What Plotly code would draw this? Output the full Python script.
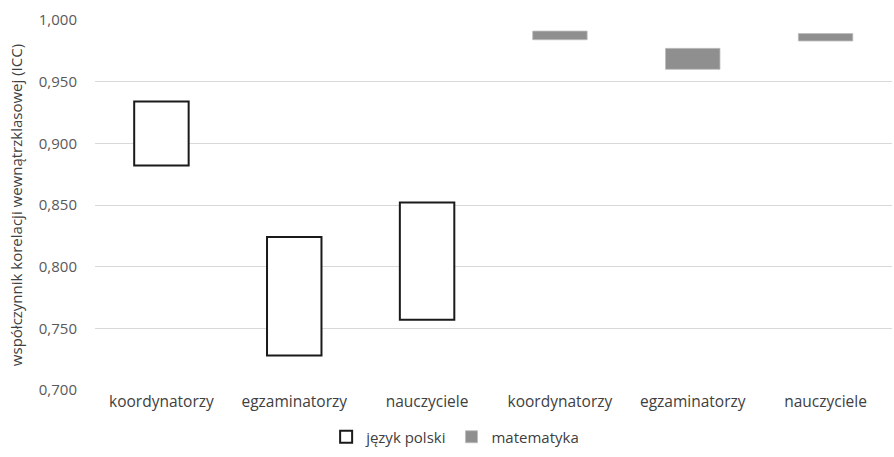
import plotly.graph_objects as go

categories = ["koordynatorzy", "egzaminatorzy", "nauczyciele",
              "koordynatorzy", "egzaminatorzy", "nauczyciele"]
pl_low = [0.882, 0.728, 0.757]
pl_high = [0.934, 0.824, 0.852]
mat_low = [0.984, 0.960, 0.983]
mat_high = [0.991, 0.977, 0.989]
y_ticks = [0.70, 0.75, 0.80, 0.85, 0.90, 0.95, 1.00]

pos = list(range(len(categories)))

fig = go.Figure()
fig.add_trace(go.Bar(
    x=pos[:3], base=pl_low, y=[h - l for h, l in zip(pl_high, pl_low)],
    name="język polski", width=0.41,
    marker=dict(color="white", line=dict(color="#1a1a1a", width=2)),
))
fig.add_trace(go.Bar(
    x=pos[3:], base=mat_low, y=[h - l for h, l in zip(mat_high, mat_low)],
    name="matematyka", width=0.41,
    marker=dict(color="#8f8f8f", line=dict(color="#bdbdbd", width=0.8)),
))

fig.update_layout(
    width=894, height=457,
    barmode="overlay",
    separators=", ",
    paper_bgcolor="white", plot_bgcolor="white",
    margin=dict(l=95, r=2, t=20, b=67, autoexpand=False),
    font=dict(family="Open Sans", size=15, color="#404040"),
    showlegend=True,
    legend=dict(orientation="h", x=0.29, xanchor="left", y=-0.127, yanchor="middle",
                font=dict(size=15, color="#404040"), itemwidth=30,
                traceorder="normal"),
    xaxis=dict(tickvals=pos, ticktext=categories, range=[-0.5, 5.5],
               showgrid=False, showline=False, zeroline=False, automargin=False,
               tickfont=dict(size=15.5, color="#404040")),
    yaxis=dict(range=[0.70, 1.00], tickvals=y_ticks, tickformat=".3f",
               showgrid=True, gridcolor="#d9d9d9", gridwidth=1.2,
               zeroline=False, showline=False, automargin=False,
               ticklabelstandoff=17,
               tickfont=dict(size=15, color="#595959"),
               title=dict(text="współczynnik korelacji wewnątrzklasowej (ICC)",
                          font=dict(size=15, color="#404040"), standoff=12)),
)

fig.write_html("out.html", config={"displayModeBar": False},
               post_script="document.body.style.margin='0';")
